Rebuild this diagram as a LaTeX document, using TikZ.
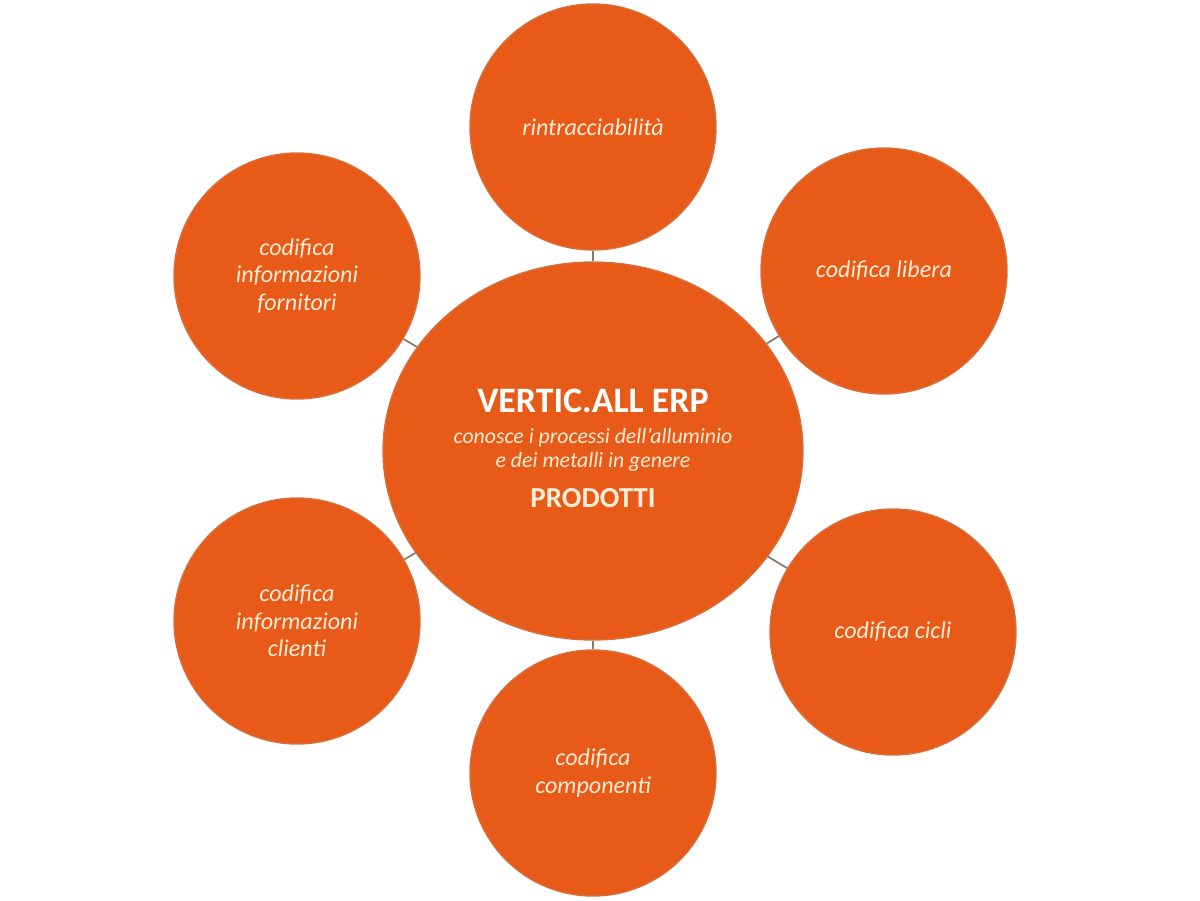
\documentclass[tikz,border=0pt]{standalone}
\usepackage{fontspec}
\setmainfont{Carlito}
\usetikzlibrary{shapes.geometric}
\definecolor{bubble}{RGB}{232,90,24}
\definecolor{rim}{RGB}{214,110,60}
\definecolor{linkgray}{RGB}{140,122,104}
\definecolor{cream}{RGB}{253,236,214}

\begin{document}
\begin{tikzpicture}[x=0.02cm,y=-0.02cm,
	  bubble/.style={circle,fill=bubble,draw=rim,line width=0.8pt,minimum size=4.92cm,inner sep=0pt,
	    align=center,text=cream,font=\fontsize{13.7}{15.6}\selectfont\itshape},
	  hub/.style={ellipse,fill=bubble,draw=rim,line width=0.8pt,minimum width=8.4cm,minimum height=7.56cm,inner sep=0pt},
	  link/.style={draw=linkgray,line width=1pt}]
	  \useasboundingbox (0,0) rectangle (1200,900);

	  % Centre
	  \node [hub] (erp) at (593,451) {};
	  \node [anchor=base,text=white,font=\fontsize{20.4}{23}\selectfont\bfseries] (erptitle) at (593,412) {VERTIC.ALL ERP};
	  \node [anchor=base,text=cream,font=\fontsize{12.4}{14}\selectfont\itshape] (erpsub) at (593,443) {conosce i processi dell’alluminio};
	  \node [anchor=base,text=cream,font=\fontsize{12.4}{14}\selectfont\itshape] (erpsubb) at (593,467) {e dei metalli in genere};
	  \node [anchor=base,text=cream,font=\fontsize{16.5}{19}\selectfont\bfseries] (erpprod) at (593,507) {PRODOTTI};

	  % Outer circles
	  \node [bubble] (rintr) at (593,127) {rintracciabilità};
	  \node [bubble] (libera) at (884,271) {codifica libera};
	  \node [bubble] (cicli) at (893,632) {codifica cicli};
	  \node [bubble] (comp) at (593,773) {codifica\\componenti};
	  \node [bubble] (clienti) at (297,621) {codifica\\informazioni\\clienti};
	  \node [bubble] (fornit) at (297,276) {codifica\\informazioni\\fornitori};

	  % Connectors
	  \foreach \n in {rintr,libera,cicli,comp,clienti,fornit}
	    \draw [link] (erp) -- (\n);
	 \end{tikzpicture}
\end{document}
